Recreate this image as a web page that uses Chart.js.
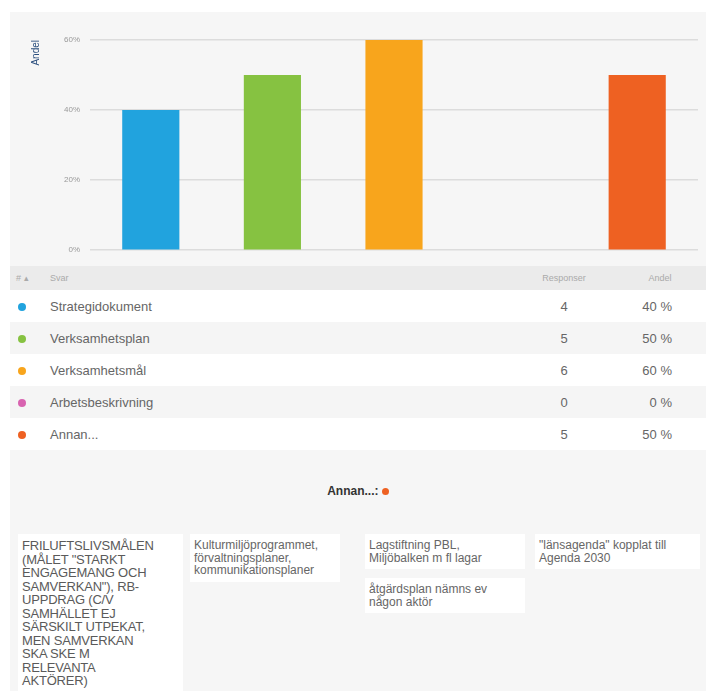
<!DOCTYPE html>
<html>
<head>
<meta charset="utf-8">
<script src="https://cdn.jsdelivr.net/npm/chart.js@4/dist/chart.umd.min.js"></script>
<style>
  body { margin: 0; background: #fff; font-family: Arial, "Liberation Sans", sans-serif; }
  #panel { position: absolute; left: 10px; top: 12px; width: 696px; height: 679px; background: #f6f6f6; overflow: hidden; }
  #chartBox { position: absolute; left: 0; top: 8px; width: 696px; height: 245px; }
  table { position: absolute; left: 0; top: 254px; width: 696px; border-collapse: collapse; table-layout: fixed; color: #666; }
  th { height: 24px; background: #ebebeb; font-weight: normal; font-size: 9px; color: #aaa; text-align: left; padding: 0; }
  td { height: 32px; font-size: 13px; padding: 0; }
  tr.w td { background: #fff; }
  tr.g td { background: #f5f5f5; }
  .dot { display: inline-block; width: 8px; height: 8px; border-radius: 50%; }
  #other { position: absolute; top: 472px; left: 0; width: 696px; text-align: center; font-size: 12px; font-weight: bold; color: #333; }
  .card { position: absolute; background: #fff; color: #666; font-size: 12px; line-height: 12.5px; padding: 5px 4px; box-sizing: border-box; }
  .caps { font-size: 13px; line-height: 13.5px; letter-spacing: -0.2px; color: #5a5a5a; }
</style>
</head>
<body>
<div id="panel">
  <div id="chartBox"><canvas id="chart" width="696" height="245"></canvas></div>
  <table id="tbl">
    <colgroup><col style="width:40px"><col><col style="width:100px"><col style="width:92px"></colgroup>
  </table>
  <div id="other">Annan...: <span class="dot" style="background:#ee6122;width:7px;height:7px"></span></div>
  <div id="cards"></div>
</div>
<script>
const categories = ['Strategidokument', 'Verksamhetsplan', 'Verksamhetsmål', 'Arbetsbeskrivning', 'Annan...'];
const responses = [4, 5, 6, 0, 5];
const shares = [40, 50, 60, 0, 50];
const colors = ['#21a3de', '#86c241', '#f8a51c', '#d863b0', '#ee6122'];
const yTicks = [0, 20, 40, 60];
const otherAnswers = [
    ['FRILUFTSLIVSMÅLEN<br>(MÅLET "STARKT<br>ENGAGEMANG OCH<br>SAMVERKAN"), RB-<br>UPPDRAG (C/V<br>SAMHÄLLET EJ<br>SÄRSKILT UTPEKAT,<br>MEN SAMVERKAN<br>SKA SKE M<br>RELEVANTA<br>AKTÖRER)'],
    ['Kulturmiljöprogrammet,<br>förvaltningsplaner,<br>kommunikationsplaner'],
    ['Lagstiftning PBL,<br>Miljöbalken m fl lagar', 'åtgärdsplan nämns ev<br>någon aktör'],
    ['"länsagenda" kopplat till<br>Agenda 2030']
];

Chart.defaults.font.family = 'Arial, "Liberation Sans", sans-serif';

const ctx = document.getElementById('chart').getContext('2d');
new Chart(ctx, {
    type: 'bar',
    data: {
        labels: categories,
        datasets: [{
            data: shares,
            backgroundColor: colors,
            barPercentage: 0.47,
            categoryPercentage: 1
        }]
    },
    options: {
        responsive: false,
        animation: false,
        layout: { padding: { top: 20, right: 8, bottom: 14, left: 0 } },
        plugins: { legend: { display: false }, tooltip: { enabled: false } },
        scales: {
            x: { display: false },
            y: {
                min: 0,
                max: 60,
                afterFit: scale => { scale.width = 80; },
                afterBuildTicks: scale => { scale.ticks = yTicks.map(v => ({ value: v })); },
                ticks: {
                    padding: 10,
                    color: '#999',
                    font: { size: 8 },
                    callback: v => v + '%'
                },
                grid: { color: '#dcdcdc', lineWidth: 1.5, drawTicks: false },
                border: { display: false },
                title: {
                    display: true,
                    text: 'Andel',
                    align: 'end',
                    color: '#2b4f7e',
                    font: { size: 10 },
                    padding: { top: 20, bottom: 0 }
                }
            }
        }
    }
});

// table below chart
const tbl = document.getElementById('tbl');
let html = '<tr><th style="padding-left:6px">#&nbsp;&#9652;</th><th>Svar</th>' +
    '<th style="text-align:center">Responser</th><th style="text-align:center">Andel</th></tr>';
categories.forEach((cat, i) => {
    html += `<tr class="${i % 2 === 0 ? 'w' : 'g'}">
        <td style="padding-left:8px"><span class="dot" style="background:${colors[i]}"></span></td>
        <td>${cat}</td>
        <td style="text-align:center">${responses[i]}</td>
        <td style="text-align:right;padding-right:34px">${shares[i]} %</td>
    </tr>`;
});
tbl.insertAdjacentHTML('beforeend', html);

// cards with "Annan" answers
const cardLeft = [8, 180, 355, 525];
const cardWidth = [165, 150, 160, 165];
const cards = document.getElementById('cards');
otherAnswers.forEach((col, c) => {
    let top = 522;
    col.forEach((txt, j) => {
        const d = document.createElement('div');
        d.className = 'card' + (c === 0 ? ' caps' : '');
        d.style.left = cardLeft[c] + 'px';
        d.style.top = top + 'px';
        d.style.width = cardWidth[c] + 'px';
        if (c === 0) d.style.height = '160px';
        d.innerHTML = txt;
        cards.appendChild(d);
        top += 44;
    });
});
</script>
</body>
</html>
